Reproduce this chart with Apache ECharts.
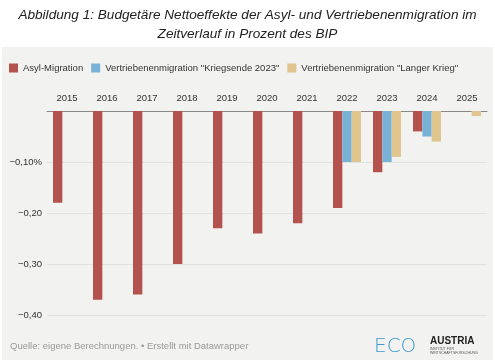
<!DOCTYPE html>
<html><head><meta charset="utf-8">
<script src="https://cdn.jsdelivr.net/npm/echarts@6/dist/echarts.min.js"></script>
<style>html,body{margin:0;padding:0;background:#fff}#c{width:495px;height:363px}</style>
</head><body><div id="c"></div>
<script>
const years = ['2015','2016','2017','2018','2019','2020','2021','2022','2023','2024','2025'];
const asyl = [-0.18,-0.37,-0.36,-0.30,-0.23,-0.24,-0.22,-0.19,-0.12,-0.04,null];
const kriegsende = [null,null,null,null,null,null,null,-0.10,-0.10,-0.05,null];
const langerKrieg = [null,null,null,null,null,null,null,-0.10,-0.09,-0.06,-0.01];
const seriesNames = ['Asyl-Migration','Vertriebenenmigration "Kriegsende 2023"','Vertriebenenmigration "Langer Krieg"'];
const yTicks = {'-0.1':'\u22120,10%','-0.2':'\u22120,20','-0.3':'\u22120,30','-0.4':'\u22120,40'};

const chart = echarts.init(document.getElementById('c'), null, {renderer:'canvas'});
const font = 'Liberation Sans, Arial, sans-serif';
chart.setOption({
  animation:false,
  backgroundColor:'#ffffff',
  graphic:[
    {type:'rect', shape:{x:2,y:47,width:491,height:313}, style:{fill:'#f2f2f0'}, z:-10},
    {type:'text', left:'center', top:6, style:{text:'Abbildung 1: Budgetäre Nettoeffekte der Asyl- und Vertriebenenmigration im\nZeitverlauf in Prozent des BIP', font:'italic 13.6px '+font, fill:'#222', textAlign:'center', lineHeight:19}},
    {type:'text', x:10, y:341, style:{text:'Quelle: eigene Berechnungen. \u2022 Erstellt mit Datawrapper', font:'9.5px '+font, fill:'#999'}},
    {type:'text', x:374, y:337, style:{text:'ECO', font:'300 20px "DejaVu Sans", sans-serif', fill:'#3f9bd0'}},
    {type:'text', x:430, y:336, style:{text:'AUSTRIA', font:'bold 10px '+font, fill:'#222'}},
    {type:'text', x:430, y:347, style:{text:'INSTITUT FÜR\nWIRTSCHAFTSFORSCHUNG', font:'3.5px '+font, fill:'#555', lineHeight:4}}
  ],
  legend:{
    left:9, top:63, padding:0, width:484, itemWidth:9, itemHeight:9, itemGap:8, icon:'rect',
    textStyle:{fontSize:9.5, color:'#333', fontFamily:font},
    data:seriesNames
  },
  grid:{left:47, right:8, top:111, height:204, containLabel:false},
  xAxis:{
    type:'category', position:'top', data:years,
    axisLine:{lineStyle:{color:'#888', width:1}},
    axisTick:{alignWithLabel:true, length:4, lineStyle:{color:'#888'}},
    axisLabel:{color:'#333', fontSize:9.5, fontFamily:font, margin:8}
  },
  yAxis:{
    type:'value', min:-0.4, max:0, interval:0.1,
    axisLine:{show:false}, axisTick:{show:false},
    splitLine:{lineStyle:{color:'#e2e2e0', width:1}},
    axisLabel:{color:'#333', fontSize:9.5, fontFamily:font, margin:5,
      formatter:v=>yTicks[(Math.round(v*10)/10).toString()]||''}
  },
  series:[
    {name:seriesNames[0], type:'bar', data:asyl, barCategoryGap:'30%', barGap:'0%', itemStyle:{color:'#b4534e'}},
    {name:seriesNames[1], type:'bar', data:kriegsende, barCategoryGap:'30%', barGap:'0%', itemStyle:{color:'#78b2d6'}},
    {name:seriesNames[2], type:'bar', data:langerKrieg, barCategoryGap:'30%', barGap:'0%', itemStyle:{color:'#e0c58e'}}
  ]
});
</script></body></html>
